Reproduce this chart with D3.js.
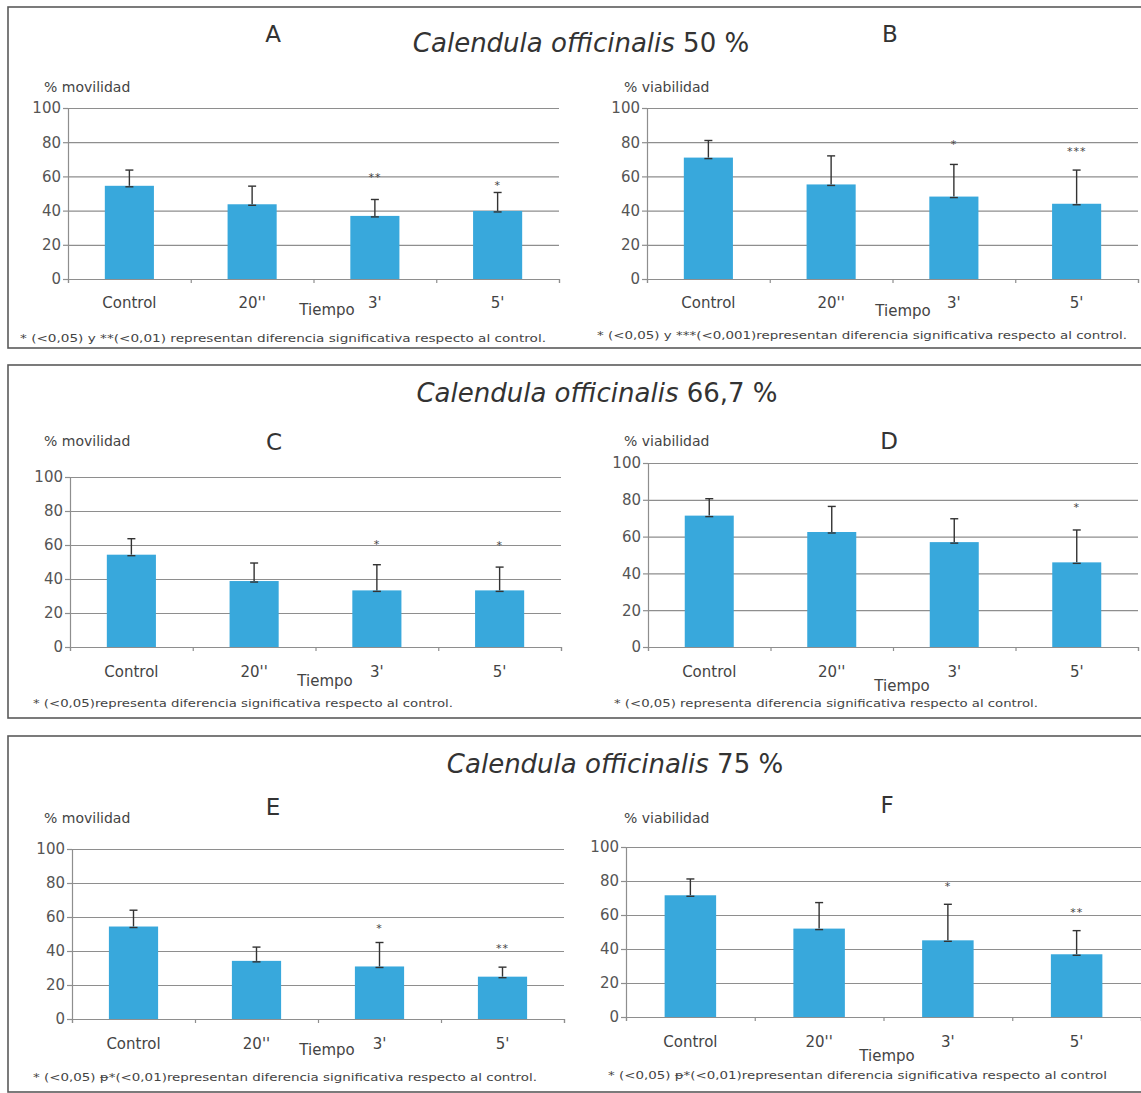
<!DOCTYPE html>
<html>
<head>
<meta charset="utf-8">
<script src="https://cdn.jsdelivr.net/npm/d3@7"></script>
<style>
  html, body { margin: 0; padding: 0; background: #fff; }
  svg { display: block; font-family: "DejaVu Sans", Verdana, sans-serif; }
</style>
</head>
<body>
<svg id="chart" width="1141" height="1093"></svg>
<script>
// ---------------- DATA ----------------
const categories = ["Control", "20''", "3'", "5'"];
const yTicks = [0, 20, 40, 60, 80, 100];
const titleSpecies = "Calendula officinalis";
const titleConcentrations = ["50 %", "66,7 %", "75 %"];
const panelLetters = ["A", "B", "C", "D", "E", "F"];
const yLabels = ["% movilidad", "% viabilidad"];
const xLabel = "Tiempo";

// Panel A – movilidad, 50 %
const movilidad50 = [54.5, 43.7, 36.9, 39.8];
const movilidad50Err = [9.2, 10.6, 9.6, 10.8];
const movilidad50Sig = ["", "", "**", "*"];
const movilidad50SigAt = [null, null, 60.8, 56];
// Panel B – viabilidad, 50 %
const viabilidad50 = [71, 55.3, 48.2, 44];
const viabilidad50Err = [10, 16.7, 18.8, 19.7];
const viabilidad50Sig = ["", "", "*", "***"];
const viabilidad50SigAt = [null, null, 80, 76];
// Panel C – movilidad, 66,7 %
const movilidad667 = [54.3, 38.8, 33.3, 33.3];
const movilidad667Err = [9.4, 10.6, 15.1, 13.7];
const movilidad667Sig = ["", "", "*", "*"];
const movilidad667SigAt = [null, null, 62, 61];
// Panel D – viabilidad, 66,7 %
const viabilidad667 = [71.4, 62.5, 57, 46];
const viabilidad667Err = [9.2, 13.9, 12.7, 17.6];
const viabilidad667Sig = ["", "", "", "*"];
const viabilidad667SigAt = [null, null, null, 77];
// Panel E – movilidad, 75 %
const movilidad75 = [54.4, 34.2, 30.9, 24.9];
const movilidad75Err = [9.6, 8.1, 14.1, 5.6];
const movilidad75Sig = ["", "", "*", "**"];
const movilidad75SigAt = [null, null, 55, 43];
// Panel F – viabilidad, 75 %
const viabilidad75 = [71.6, 52, 45.1, 36.9];
const viabilidad75Err = [9.6, 15.3, 21.2, 13.9];
const viabilidad75Sig = ["", "", "*", "**"];
const viabilidad75SigAt = [null, null, 78.4, 62.7];

const footnotes = [
  "* (<0,05) y  **(<0,01) representan diferencia significativa respecto al control.",
  "* (<0,05) y ***(<0,001)representan diferencia significativa respecto al control.",
  "* (<0,05)representa diferencia significativa respecto al control.",
  "* (<0,05) representa diferencia significativa respecto al control.",
  "* (<0,05) \u1D7D*(<0,01)representan diferencia significativa respecto al control.",
  "* (<0,05) \u1D7D*(<0,01)representan diferencia significativa respecto al control"
];

// ---------------- LAYOUT ----------------
const boxes = [
  { y: 7, h: 341, tx: 581, ty: 52 },
  { y: 365, h: 353, tx: 597, ty: 402 },
  { y: 736, h: 356, tx: 615, ty: 773 }
];
const layout = [
  { x0: 68,  x1: 559,  y0: 279,  y1: 108, letter: [273, 42],  ylab: [44, 92],   cat: 308,  tiempo: [327, 315],  foot: [20, 342, 526] },
  { x0: 647, x1: 1138, y0: 279,  y1: 108, letter: [890, 42],  ylab: [624, 92],  cat: 308,  tiempo: [903, 316],  foot: [597, 339, 530] },
  { x0: 70,  x1: 561,  y0: 647,  y1: 477, letter: [274, 450], ylab: [44, 446],  cat: 677,  tiempo: [325, 686],  foot: [33, 707, 420] },
  { x0: 648, x1: 1138, y0: 647,  y1: 463, letter: [889, 449], ylab: [624, 446], cat: 677,  tiempo: [902, 691],  foot: [614, 707, 424] },
  { x0: 72,  x1: 564,  y0: 1019, y1: 849, letter: [273, 815], ylab: [44, 823],  cat: 1049, tiempo: [327, 1055], foot: [33, 1081, 504] },
  { x0: 626, x1: 1141, y0: 1017, y1: 847, letter: [887, 813], ylab: [624, 823], cat: 1047, tiempo: [887, 1061], foot: [608, 1079, 499] }
];

const panels = [
  { v: movilidad50,  e: movilidad50Err,  s: movilidad50Sig,  sa: movilidad50SigAt },
  { v: viabilidad50, e: viabilidad50Err, s: viabilidad50Sig, sa: viabilidad50SigAt },
  { v: movilidad667,  e: movilidad667Err,  s: movilidad667Sig,  sa: movilidad667SigAt },
  { v: viabilidad667, e: viabilidad667Err, s: viabilidad667Sig, sa: viabilidad667SigAt },
  { v: movilidad75,  e: movilidad75Err,  s: movilidad75Sig,  sa: movilidad75SigAt },
  { v: viabilidad75, e: viabilidad75Err, s: viabilidad75Sig, sa: viabilidad75SigAt }
];

const BAR = "#38a8dc", GRID = "#8e8e8e", TXT = "#444";

const svg = d3.select("#chart");
svg.append("rect").attr("width", 1141).attr("height", 1093).attr("fill", "#fff");

// boxes + titles
boxes.forEach((b, i) => {
  svg.append("rect").attr("x", 8).attr("y", b.y).attr("width", 1150).attr("height", b.h)
    .attr("fill", "none").attr("stroke", "#5a5a5a").attr("stroke-width", 1.6);
  const t = svg.append("text").attr("x", b.tx).attr("y", b.ty).attr("text-anchor", "middle")
    .attr("font-size", 26).attr("fill", "#333");
  t.append("tspan").attr("font-style", "italic").text(titleSpecies);
  t.append("tspan").text(" " + titleConcentrations[i]);
});

panels.forEach((p, i) => {
  const L = layout[i];
  const g = svg.append("g");
  const x = d3.scaleBand().domain(categories).range([L.x0, L.x1]).paddingInner(0.6).paddingOuter(0.3);
  const y = d3.scaleLinear().domain([0, 100]).range([L.y0, L.y1]);
  const xb = d3.scaleLinear().domain([0, categories.length]).range([L.x0, L.x1]);

  // gridlines
  const grid = g.append("g").attr("transform", `translate(${L.x0},0)`)
    .call(d3.axisLeft(y).tickValues(yTicks).tickSize(-(L.x1 - L.x0)).tickFormat(""));
  grid.select(".domain").remove();
  grid.selectAll("line").attr("stroke", GRID).attr("stroke-width", 1.2);

  // y axis
  const ya = g.append("g").attr("transform", `translate(${L.x0},0)`)
    .call(d3.axisLeft(y).tickValues(yTicks).tickSize(5).tickPadding(2));
  ya.select(".domain").attr("stroke", GRID).attr("stroke-width", 1.2);
  ya.selectAll("line").attr("stroke", GRID).attr("stroke-width", 1.2);
  ya.selectAll("text").attr("font-size", 15).attr("fill", "#555").attr("font-family", "DejaVu Sans");

  // x axis boundary ticks
  const xa = g.append("g").attr("transform", `translate(0,${L.y0})`)
    .call(d3.axisBottom(xb).tickValues(d3.range(categories.length + 1)).tickSize(4).tickFormat(""));
  xa.select(".domain").attr("stroke", GRID).attr("stroke-width", 1.2);
  xa.selectAll("line").attr("stroke", GRID).attr("stroke-width", 1.2);

  // category labels
  const xc = g.append("g").attr("transform", `translate(0,${L.y0})`)
    .call(d3.axisBottom(x).tickSize(0));
  xc.select(".domain").remove();
  xc.selectAll("text").attr("y", L.cat - L.y0).attr("dy", null)
    .attr("font-size", 15).attr("fill", TXT).attr("font-family", "DejaVu Sans");

  const cx = j => x(categories[j]) + x.bandwidth() / 2;

  // bars
  g.selectAll("rect.bar").data(p.v).join("rect").attr("class", "bar")
    .attr("x", (d, j) => x(categories[j])).attr("width", x.bandwidth())
    .attr("y", d => y(d)).attr("height", d => y(0) - y(d)).attr("fill", BAR);

  // error bars
  const eb = g.selectAll("g.err").data(p.v).join("g").attr("class", "err");
  eb.append("line").attr("x1", (d, j) => cx(j)).attr("x2", (d, j) => cx(j))
    .attr("y1", d => y(d)).attr("y2", (d, j) => y(d + p.e[j]));
  eb.append("line").attr("x1", (d, j) => cx(j) - 4).attr("x2", (d, j) => cx(j) + 4)
    .attr("y1", (d, j) => y(d + p.e[j])).attr("y2", (d, j) => y(d + p.e[j]));
  eb.append("line").attr("x1", (d, j) => cx(j) - 4).attr("x2", (d, j) => cx(j) + 4)
    .attr("y1", d => y(d) + 1).attr("y2", d => y(d) + 1);
  eb.selectAll("line").attr("stroke", "#333").attr("stroke-width", 1.4);

  // significance marks
  const sigData = p.s.map((s, j) => ({ s, j, at: p.sa[j] })).filter(d => d.s !== "");
  g.selectAll("text.sig").data(sigData).join("text").attr("class", "sig")
    .attr("x", d => cx(d.j))
    .attr("y", d => y(d.at) + 6)
    .attr("text-anchor", "middle").attr("font-size", 11).attr("fill", TXT)
    .attr("letter-spacing", 1)
    .text(d => d.s);

  // letter
  g.append("text").attr("x", L.letter[0]).attr("y", L.letter[1]).attr("text-anchor", "middle")
    .attr("font-size", 23).attr("fill", "#333").text(panelLetters[i]);
  // y label
  g.append("text").attr("x", L.ylab[0]).attr("y", L.ylab[1])
    .attr("font-size", 14).attr("fill", TXT).text(yLabels[i % 2]);
  // x label
  g.append("text").attr("x", L.tiempo[0]).attr("y", L.tiempo[1]).attr("text-anchor", "middle")
    .attr("font-size", 15).attr("fill", TXT).text(xLabel);
  // footnote
  g.append("text").attr("x", L.foot[0]).attr("y", L.foot[1])
    .attr("font-size", 11).attr("fill", TXT)
    .attr("textLength", L.foot[2]).attr("lengthAdjust", "spacingAndGlyphs")
    .text(footnotes[i]);
});
</script>
</body>
</html>
